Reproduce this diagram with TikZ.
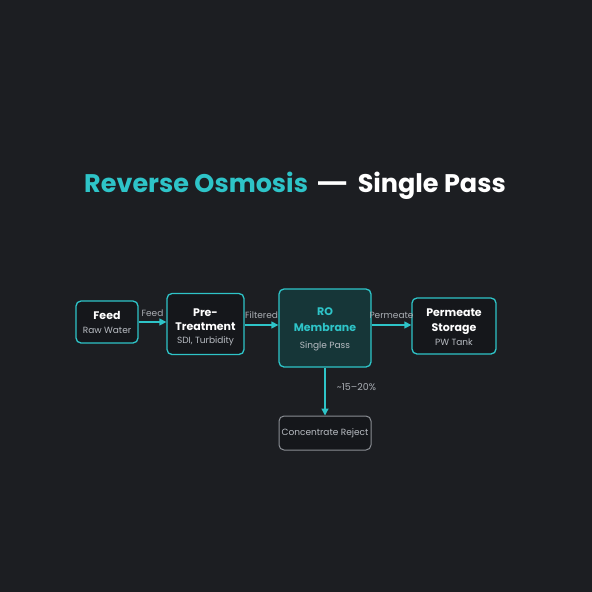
\documentclass[tikz,border=0pt]{standalone}
\usepackage{fontspec}
\usepackage{graphicx}
\setmainfont{Poppins}
\usetikzlibrary{arrows.meta}
\definecolor{bg}{HTML}{1C1E22}
\definecolor{teal}{HTML}{2EC4C8}
\definecolor{boxfill}{HTML}{15171B}
\definecolor{rofill}{HTML}{163638}
\definecolor{sub}{HTML}{B8BCC2}
\definecolor{lbl}{HTML}{A9ADB3}
\definecolor{graybd}{HTML}{8A8E94}
\tikzset{
  x=1pt,y=-1pt,
  box/.style={draw=teal, line width=1.3pt, rounded corners=5pt, fill=boxfill, inner sep=0pt},
  txt/.style={align=center, inner sep=0pt, font=\fontsize{11}{14}\selectfont},
  conn/.style={draw=teal, line width=1.3pt, -{Triangle[length=7pt,width=7pt]}},
  elbl/.style={font=\fontsize{9}{10}\selectfont, text=lbl},
}
\newcommand{\hd}[1]{{\bfseries #1}}
\newcommand{\subt}[1]{{\fontsize{9}{10}\selectfont\color{sub}#1}}
\begin{document}
\begin{tikzpicture}
\fill[bg] (0,0) rectangle (592,592);
\useasboundingbox (0,0) rectangle (592,592);
\node (title) at (295,186) {\fontsize{25.5}{30}\selectfont\bfseries\color{teal}Reverse Osmosis\hspace{0.3em}\color{white}\scalebox{1.4}[1]{—}\hspace{0.35em}Single Pass};
% boxes
\node[box, minimum width=62pt, minimum height=42pt] (feed) at (107,322) {};
\node[box, minimum width=77pt, minimum height=61pt] (pre) at (205.5,324) {};
\node[box, fill=rofill, minimum width=92pt, minimum height=78pt] (ro) at (325,328) {};
\node[box, minimum width=84pt, minimum height=56pt] (perm) at (454,326) {};
\node[box, draw=graybd, line width=1pt, minimum width=92pt, minimum height=34pt] (rej) at (325,433) {};
% box texts
\node[txt] (feedt) at ([yshift=-0.5pt]feed.center) {\color{white}\hd{Feed}\\[0pt]\subt{Raw Water}};
\node[txt] (pret) at ([yshift=-3.5pt]pre.center) {\color{white}\hd{Pre-}\\\color{white}\hd{Treatment}\\[-0.5pt]\subt{SDI, Turbidity}};
\node[txt, font=\fontsize{11}{16}\selectfont] (rot) at ([yshift=-1.5pt]ro.center) {\color{teal}\hd{RO}\\\color{teal}\hd{Membrane}\\[1pt]\subt{Single Pass}};
\node[txt, font=\fontsize{11}{14.5}\selectfont] (permt) at ([yshift=-1.5pt]perm.center) {\color{white}\hd{Permeate}\\\color{white}\hd{Storage}\\[0pt]\subt{PW Tank}};
\node[txt] (rejt) at (rej.center) {\fontsize{9}{10}\selectfont\color{sub}Concentrate Reject};
% connectors
\draw[conn] (feed.east |- 0,322) -- (pre.west |- 0,322) node[elbl, midway, above=1pt] {Feed};
\draw[conn] (pre.east |- 0,325) -- (ro.west |- 0,325) node[elbl, midway, above=2pt] {Filtered};
\draw[conn] (ro.east |- 0,325) -- (perm.west |- 0,325) node[elbl, midway, above=2pt] {Permeate};
\draw[conn] (ro.south) -- (rej.north) node[elbl, font=\fontsize{9.5}{10}\selectfont, midway, right=8pt, yshift=5pt] {\textasciitilde 15–20\%};
\end{tikzpicture}
\end{document}
